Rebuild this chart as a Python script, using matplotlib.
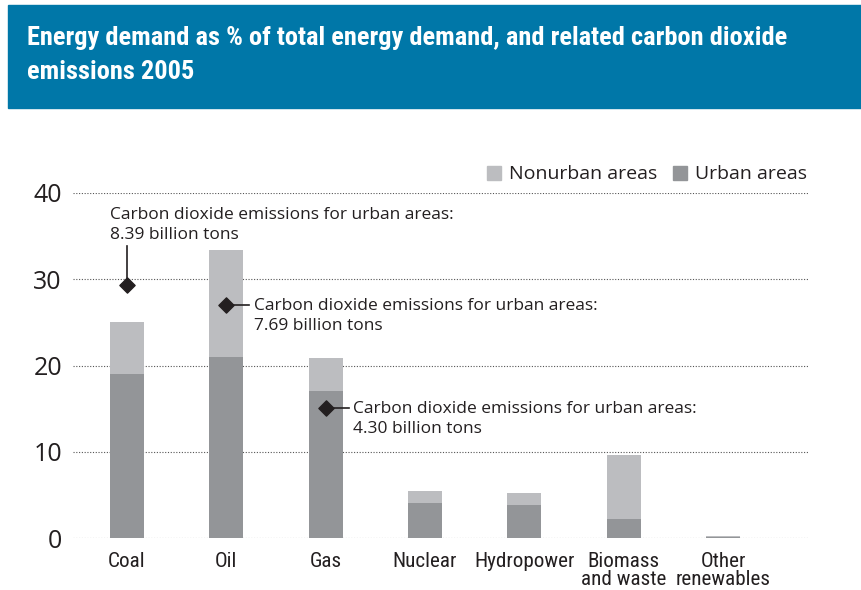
import matplotlib
matplotlib.use("Agg")
import matplotlib.pyplot as plt
import numpy as np
from matplotlib.patches import Rectangle

# --- data ---
categories = ["Coal", "Oil", "Gas", "Nuclear", "Hydropower",
              "Biomass\nand waste", "Other\nrenewables"]
urban = [19.0, 21.0, 17.0, 4.1, 3.85, 2.2, 0.12]
nonurban = [6.0, 12.4, 3.9, 1.35, 1.35, 7.4, 0.15]
co2_marker = [29.3, 27.0, 15.1]
co2_labels = ["8.39 billion tons", "7.69 billion tons", "4.30 billion tons"]
yticks = [0, 10, 20, 30, 40]

URBAN_C = "#939598"
NONURBAN_C = "#bcbdc0"
BANNER_C = "#0077a8"
TEXT_C = "#231f20"
BODY = ["Open Sans", "DejaVu Sans"]
NARROW = ["Roboto Condensed", "DejaVu Sans"]

plt.rcParams["font.family"] = BODY

W, H = 861, 590
fig = plt.figure(figsize=(W / 100, H / 100), dpi=100)

# title banner
fig.patches.append(Rectangle((8 / W, 1 - 108 / H), 1 - 8 / W, 103 / H,
                             transform=fig.transFigure, color=BANNER_C, zorder=0))
title_lines = ["Energy demand as % of total energy demand, and related carbon dioxide",
               "emissions 2005"]
for ty, line in zip((38, 72), title_lines):
    fig.text(27 / W, 1 - ty / H, line, color="white", fontsize=19, fontweight="bold",
             va="center", ha="left", family=NARROW)

ax = fig.add_axes([73 / W, 1 - 538 / H, (808 - 73) / W, (538 - 193) / H])
x = np.arange(len(categories))
width = 0.34
ax.bar(x, urban, width, color=URBAN_C, zorder=2)
ax.bar(x, nonurban, width, bottom=urban, color=NONURBAN_C, zorder=2)

ax.set_xlim(-0.544, 6.856)
ax.set_ylim(0, 40)
ax.set_yticks(yticks)
ax.set_yticklabels([str(t) for t in yticks], fontsize=18, color=TEXT_C)
ax.set_xticks(x)
ax.set_xticklabels(categories, fontsize=15.2, color=TEXT_C, linespacing=0.95,
                   va="top", family=NARROW)
ax.tick_params(axis="x", length=0, pad=10)
ax.tick_params(axis="y", length=0, pad=8)
for s in ax.spines.values():
    s.set_visible(False)
ax.grid(axis="y", linestyle=(0, (1, 1.5)), color="#555555", linewidth=0.8, zorder=1)
ax.set_axisbelow(True)

# CO2 markers and annotations
ann_font = dict(fontsize=12.5, color=TEXT_C, linespacing=1.33)
ax.scatter(x[:3], co2_marker, marker="D", s=60, color=TEXT_C, zorder=4)
# Coal: text above, vertical leader
ax.plot([x[0], x[0]], [co2_marker[0], 33.8], color=TEXT_C, lw=1.2, zorder=3)
ax.text(x[0] - 0.17, 36.3, "Carbon dioxide emissions for urban areas:\n" + co2_labels[0],
        ha="left", va="center", **ann_font)
# Oil and Gas: text to the right, horizontal leader
for i in (1, 2):
    ax.plot([x[i], x[i] + 0.23], [co2_marker[i]] * 2, color=TEXT_C, lw=1.2, zorder=3)
    ax.text(x[i] + 0.28, co2_marker[i] - 1.3,
            "Carbon dioxide emissions for urban areas:\n" + co2_labels[i],
            ha="left", va="center", **ann_font)

# legend
for lx, col, lab in [(487, NONURBAN_C, "Nonurban areas"), (673, URBAN_C, "Urban areas")]:
    fig.patches.append(Rectangle((lx / W, 1 - 180 / H), 14 / W, 14 / H,
                                 transform=fig.transFigure, color=col))
    fig.text((lx + 22) / W, 1 - 174 / H, lab, fontsize=14, color=TEXT_C, va="center",
             ha="left")

fig.savefig("out.png", dpi=100)
